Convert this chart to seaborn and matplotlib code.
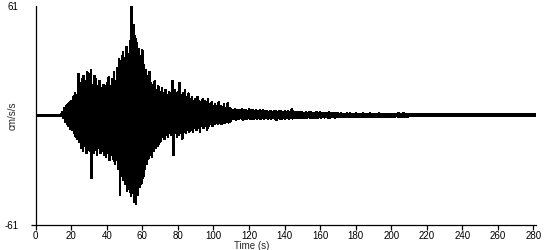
import numpy as np
import pandas as pd
import matplotlib
matplotlib.use("Agg")
import matplotlib.pyplot as plt
import seaborn as sns

# Envelope of the accelerogram, one value per second (t = 0..281 s)
upper_0_14 = [0.15, 0.1, 0.15, 0.1, 0.15, 0.1, 0.15, 0.1, 0.15, 0.1, 0.15, 0.1, 0.15, 0.1, 0.3]
lower_0_14 = [-0.1, -0.15, -0.1, -0.15, -0.1, -0.15, -0.1, -0.15, -0.1, -0.15, -0.1, -0.15, -0.1, -0.15, -0.3]

upper_15_109 = [1.5, 4, 5, 6, 7, 8, 10, 12, 11, 23,
                18, 20, 22, 19, 24, 18, 25, 17, 22, 20,
                16, 19, 15, 17, 14, 18, 21, 16, 20, 24,
                19, 26, 31, 29, 35, 32, 38, 34, 41, 61,
                50, 44, 40, 37, 33, 36, 28, 25, 22, 24,
                18, 17, 19, 14, 16, 13, 15, 12, 14, 11,
                13, 12, 19, 14, 12, 13, 18, 11, 12, 14,
                10, 12, 9, 10, 8, 9, 10, 8, 7, 9,
                8, 7, 9, 6, 7, 5, 6, 5, 7, 5,
                4.5, 6, 4, 6.5, 4]
lower_15_109 = [-1.5, -3.5, -4.5, -6, -7.5, -8, -10, -12, -13, -15,
                -18, -20, -17, -21, -19, -20, -35, -21, -19, -22,
                -18, -21, -20, -22, -23, -21, -25, -22, -24, -27,
                -25, -30, -44, -33, -36, -38, -42, -40, -45, -43,
                -48, -49, -44, -40, -38, -35, -30, -27, -24, -22,
                -23, -20, -18, -17, -16, -14, -12, -13, -11, -12,
                -10, -11, -22, -10, -12, -11, -10, -13, -9, -10,
                -8, -9, -8, -9, -7, -8, -7, -9, -6, -7,
                -6, -8, -6, -5, -6, -5, -4, -5, -4, -5,
                -4, -4, -3.5, -4, -3.5]

upper_110_169 = [3.1, 2.6, 3.4, 2.8, 3.0, 2.5, 3.5, 2.7, 2.9, 2.4,
                 3.2, 2.6, 2.8, 2.3, 3.0, 2.5, 2.7, 2.2, 2.9, 2.4,
                 2.2, 1.9, 2.3, 1.8, 2.1, 2.4, 1.7, 2.0, 2.2, 1.8,
                 2.1, 1.9, 2.3, 1.7, 3.3, 2.0, 1.8, 1.6, 1.9, 1.5,
                 1.6, 1.4, 1.7, 1.3, 1.5, 1.6, 1.2, 1.4, 1.6, 1.3,
                 1.5, 1.2, 1.4, 1.1, 1.3, 1.5, 1.2, 1.1, 1.4, 1.2]
lower_110_169 = [-2.2, -1.8, -2.4, -2.0, -2.1, -1.7, -2.3, -1.9, -2.1, -1.6,
                 -2.2, -1.8, -2.0, -1.6, -2.1, -1.7, -1.9, -1.6, -2.0, -1.7,
                 -1.9, -1.6, -2.2, -1.7, -1.8, -2.4, -1.6, -1.9, -2.1, -1.7,
                 -1.8, -1.5, -2.0, -1.6, -1.8, -1.5, -1.7, -1.4, -1.6, -1.3,
                 -1.5, -1.2, -1.4, -1.1, -1.3, -1.5, -1.2, -1.3, -1.4, -1.1,
                 -1.3, -1.1, -1.2, -1.0, -1.2, -1.4, -1.1, -1.0, -1.2, -1.1]

upper_170_281 = [0.9, 0.7, 1.0, 0.6, 0.8, 1.1, 0.7, 0.9, 0.6, 0.8,
                 1.0, 0.7, 0.8, 0.6, 0.9, 0.7, 0.8, 0.6, 0.9, 0.7,
                 0.8, 0.6, 0.7, 0.9, 0.6, 0.8, 0.7, 0.6, 0.8, 0.7,
                 0.6, 0.8, 0.6, 0.7, 1.3, 0.6, 0.7, 1.1, 0.6, 0.7,
                 0.5, 0.6, 0.4, 0.6, 0.5, 0.4, 0.6, 0.5, 0.4, 0.6,
                 0.5, 0.4, 0.6, 0.5, 0.4, 0.5, 0.6, 0.4, 0.5, 0.4,
                 0.6, 0.5, 0.4, 0.5, 0.4, 0.6, 0.4, 0.5, 0.4, 0.5,
                 0.4, 0.6, 0.4, 0.5, 0.4, 0.5, 0.4, 0.5, 0.4, 0.6,
                 0.4, 0.5, 0.4, 0.5, 0.4, 0.4, 0.5, 0.4, 0.6, 0.4,
                 0.5, 0.4, 0.4, 0.5, 0.4, 0.5, 0.4, 0.4, 0.5, 0.4,
                 0.4, 0.5, 0.4, 0.5, 0.4, 0.4, 0.5, 0.4, 0.4, 0.5,
                 0.4, 0.4]
lower_170_281 = [-0.8, -0.6, -0.9, -0.6, -0.7, -1.0, -0.6, -0.8, -0.6, -0.7,
                 -0.9, -0.6, -0.7, -0.6, -0.8, -0.6, -0.7, -0.6, -0.8, -0.6,
                 -0.7, -0.6, -0.6, -0.8, -0.6, -0.7, -0.6, -0.6, -0.7, -0.6,
                 -0.6, -0.7, -0.6, -0.6, -1.1, -0.6, -0.6, -0.9, -0.6, -0.6,
                 -0.5, -0.5, -0.4, -0.5, -0.4, -0.4, -0.5, -0.4, -0.4, -0.5,
                 -0.4, -0.4, -0.5, -0.4, -0.4, -0.4, -0.5, -0.4, -0.4, -0.4,
                 -0.5, -0.4, -0.4, -0.4, -0.4, -0.5, -0.4, -0.4, -0.4, -0.4,
                 -0.4, -0.5, -0.4, -0.4, -0.4, -0.4, -0.4, -0.4, -0.4, -0.5,
                 -0.4, -0.4, -0.4, -0.4, -0.4, -0.4, -0.4, -0.4, -0.5, -0.4,
                 -0.4, -0.4, -0.4, -0.4, -0.4, -0.4, -0.4, -0.4, -0.4, -0.4,
                 -0.4, -0.4, -0.4, -0.4, -0.4, -0.4, -0.4, -0.4, -0.4, -0.4,
                 -0.4, -0.4]

x_ticks = [0, 20, 40, 60, 80, 100, 120, 140, 160, 180, 200, 220, 240, 260, 280]
y_ticks = [-61, 61]
x_label = "Time (s)"
y_label = "cm/s/s"

# ---- build the trace: alternate upper and lower peaks within each second ----
upper = upper_0_14 + upper_15_109 + upper_110_169 + upper_170_281
lower = lower_0_14 + lower_15_109 + lower_110_169 + lower_170_281
n = min(len(upper), len(lower))
sec = np.arange(n, dtype=float)
t = np.empty(2 * n)
v = np.empty(2 * n)
t[0::2] = sec
t[1::2] = sec + 0.5
v[0::2] = upper[:n]
v[1::2] = lower[:n]
df = pd.DataFrame({"t": t, "v": v})

sns.set_style("white")
plt.rcParams["font.family"] = ["Liberation Sans", "DejaVu Sans"]

fig = plt.figure(figsize=(5.5, 2.5), dpi=100)
ax = fig.add_axes([35.7 / 550, 25 / 250, (536 - 35.7) / 550, (225 - 5.5) / 250])

sns.lineplot(data=df, x="t", y="v", sort=False, estimator=None,
             color="black", linewidth=1.1, antialiased=False, ax=ax)

ax.set_xlim(0, 281.5)
ax.set_ylim(-61, 61)
for s in ["top", "right"]:
    ax.spines[s].set_visible(False)
for s in ["left", "bottom"]:
    ax.spines[s].set_color("black")
    ax.spines[s].set_linewidth(0.9)

ax.set_xticks(x_ticks)
ax.set_xticklabels([str(x) for x in x_ticks], fontsize=7)
ax.set_yticks(y_ticks)
ax.set_yticklabels([str(y) for y in y_ticks], fontsize=7)
ax.tick_params(axis="x", direction="out", length=3.5, width=0.9, pad=0.5,
               bottom=True, colors="black")
ax.tick_params(axis="y", direction="out", length=3.5, width=0.9, pad=9,
               left=True, colors="black")
ax.yaxis.get_major_ticks()[1].tick1line.set_visible(False)

ax.set_xlabel(x_label, fontsize=7, va="top")
ax.xaxis.set_label_coords((252 - 35.7) / (536 - 35.7), -0.075)
ax.set_ylabel(y_label, fontsize=7, va="center")
ax.yaxis.set_label_coords((13 - 35.7) / (536 - 35.7), 0.5)

fig.savefig("out.png", dpi=100, facecolor="white")
